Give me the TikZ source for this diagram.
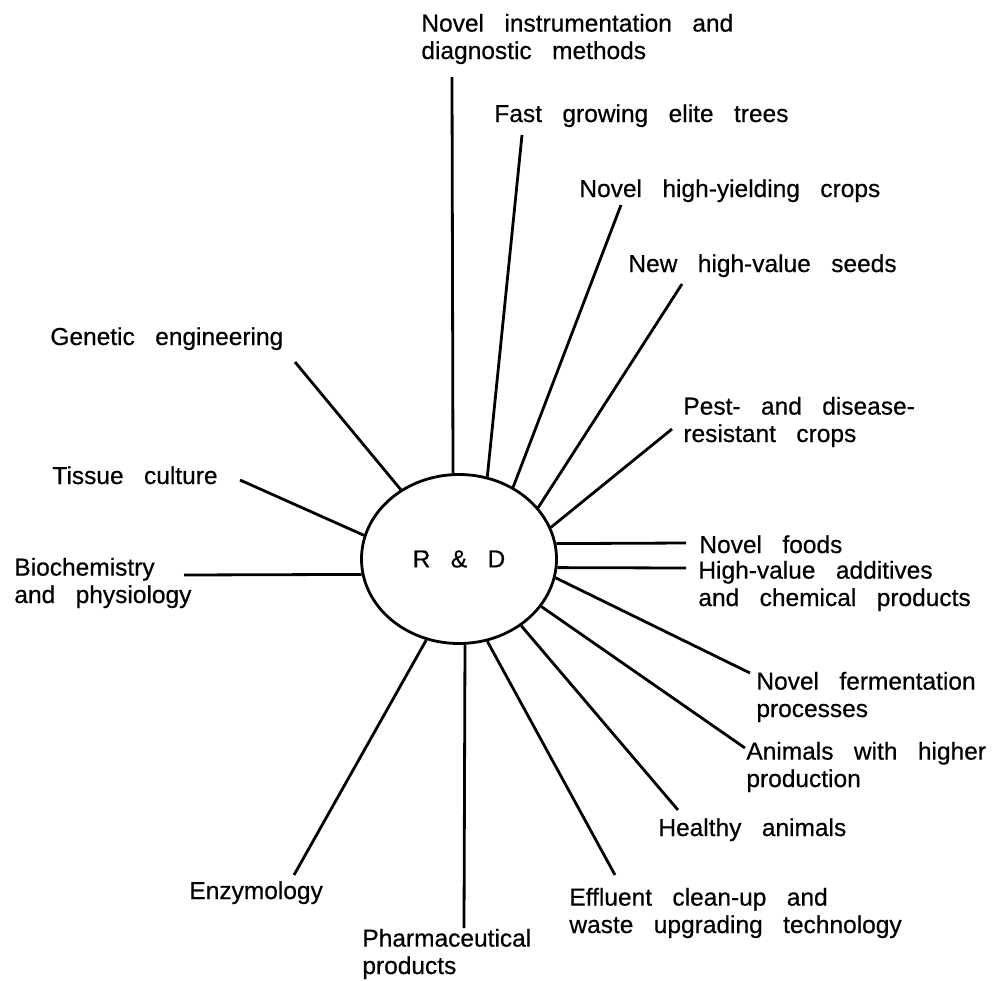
\documentclass[tikz,border=0pt]{standalone}
\usepackage{fontspec}
\setmainfont{Liberation Sans}[WordSpace=3,FakeBold=0.5]
\usetikzlibrary{shapes.geometric}

\tikzset{
  spoke/.style={line width=1.4pt},
  lbl/.style={anchor=base west,inner sep=0pt,align=left,
    font=\fontsize{12.25}{13.7}\selectfont}
}

\begin{document}
\begin{tikzpicture}[x=0.5pt,y=-0.5pt]
  \useasboundingbox (0,0) rectangle (992,981);

  % Centre
  \node[ellipse,draw,line width=1.4pt,inner sep=0pt,minimum width=97.5pt,
    minimum height=84.5pt,font=\fontsize{12.25}{13.7}\selectfont] (rd) at (459,559) {R \& D};

  % Labels (base of the last line)
  \node[lbl] (instr) at (421,59) {Novel instrumentation and\\diagnostic methods};
  \node[lbl] (trees) at (494,122) {Fast growing elite trees};
  \node[lbl] (crops) at (579,197) {Novel high-yielding crops};
  \node[lbl] (seeds) at (628,272) {New high-value seeds};
  \node[lbl] (pest) at (683,442) {Pest- and disease-\\resistant crops};
  \node[lbl] (foods) at (699,553) {Novel foods};
  \node[lbl] (addit) at (698,606) {High-value additives\\and chemical products};
  \node[lbl] (ferm) at (756,717) {Novel fermentation\\processes};
  \node[lbl] (anim) at (746,787) {Animals with higher\\production};
  \node[lbl] (healthy) at (658,836) {Healthy animals};
  \node[lbl] (efflu) at (569,933) {Effluent clean-up and\\waste upgrading technology};
  \node[lbl] (pharma) at (362,974) {Pharmaceutical\\products};
  \node[lbl] (enzym) at (189,899) {Enzymology};
  \node[lbl] (biochem) at (14,603) {Biochemistry\\and physiology};
  \node[lbl] (tissue) at (52,484) {Tissue culture};
  \node[lbl] (genetic) at (50,345) {Genetic engineering};

  % Free ends of the spokes
  \coordinate (instr-e) at (452,77);
  \coordinate (trees-e) at (522,135);
  \coordinate (crops-e) at (621,205);
  \coordinate (seeds-e) at (682,284);
  \coordinate (pest-e) at (672,429);
  \coordinate (foods-e) at (686,543);
  \coordinate (addit-e) at (686,568);
  \coordinate (ferm-e) at (750,673);
  \coordinate (anim-e) at (745,748);
  \coordinate (healthy-e) at (678,810);
  \coordinate (efflu-e) at (615,875);
  \coordinate (pharma-e) at (464,928);
  \coordinate (enzym-e) at (294,875);
  \coordinate (biochem-e) at (184,575);
  \coordinate (tissue-e) at (240,480);
  \coordinate (genetic-e) at (295,362);

  % Spokes
  \foreach \n/\a in {instr/94.7,trees/71.6,crops/53,seeds/33.9,pest/19.3,
      foods/9.4,addit/-5.2,ferm/-11.8,anim/-30.3,healthy/-47.2,efflu/-71,
      pharma/-86.7,enzym/-112,biochem/189.1,tissue/166,genetic/130.5}
    \draw[spoke] (rd.\a) -- (\n-e);
\end{tikzpicture}
\end{document}
